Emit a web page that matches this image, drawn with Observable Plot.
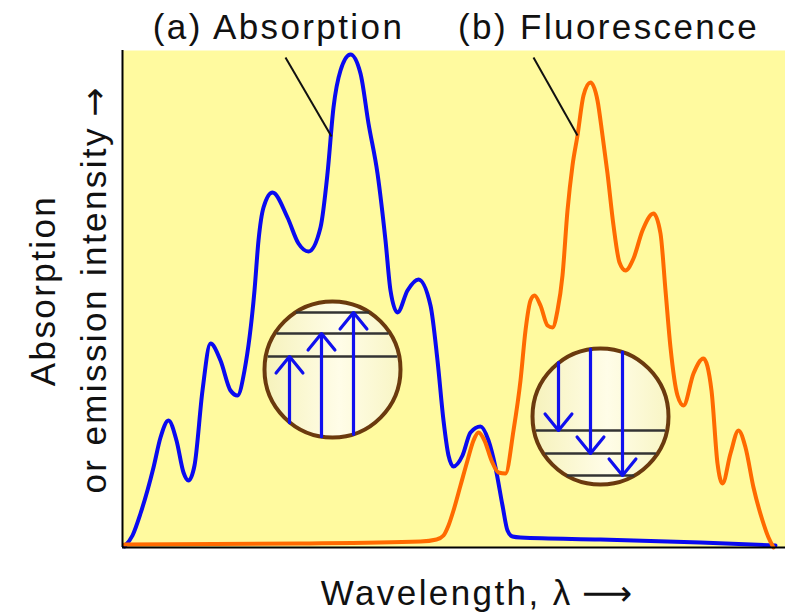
<!DOCTYPE html>
<html>
<head>
<meta charset="utf-8">
<script src="https://cdn.jsdelivr.net/npm/d3@7"></script>
<script src="https://cdn.jsdelivr.net/npm/@observablehq/plot@0.6"></script>
<style>
  html, body { margin: 0; padding: 0; background: #ffffff; }
</style>
</head>
<body>
<div id="chart"></div>
<script>
// ---- Data (arbitrary units) ----
const absWavelength = [2, 10, 18, 31, 38, 46, 54, 61, 66, 72, 80, 88, 98, 108, 115, 122, 132, 136, 141, 150, 165, 176, 186, 198, 205, 211, 218, 228, 238, 246, 255, 263, 268, 275, 285, 296, 308, 315, 321, 326, 331, 340, 348, 358, 366, 373, 380, 385, 390, 398, 478, 578, 653];
const absIntensity  = [1, 12, 34, 80, 110, 127, 107, 75, 67, 82, 157, 204, 187, 157, 152, 177, 257, 307, 340, 355, 330, 304, 296, 320, 374, 440, 477, 493, 474, 424, 374, 307, 257, 235, 257, 268, 242, 187, 127, 92, 81, 92, 115, 121, 107, 80, 42, 17, 11, 10, 8, 5, 2];

const fluWavelength = [2, 178, 298, 314, 321, 326, 331, 338, 345, 351, 356, 362, 369, 376, 383, 391, 398, 403, 408, 412, 418, 425, 430, 435, 440, 445, 450, 455, 461, 468, 475, 480, 485, 491, 497, 503, 511, 520, 531, 538, 543, 548, 555, 561, 571, 581, 589, 595, 600, 608, 616, 623, 631, 640, 646, 651];
const fluIntensity  = [3, 4, 6, 8, 12, 22, 37, 62, 87, 107, 115, 107, 87, 75, 74, 117, 167, 217, 247, 252, 242, 222, 220, 237, 272, 337, 382, 412, 452, 465, 447, 412, 374, 322, 285, 277, 289, 317, 334, 314, 257, 200, 152, 142, 174, 189, 157, 84, 64, 94, 117, 100, 60, 27, 10, 0];

const seriesTitles = ["(a) Absorption", "(b) Fluorescence"];
const axisLabelY = "Absorption\nor emission intensity\u2009\u2192";
const axisLabelX = "Wavelength, \u03bb\u2009\u27f6";

// energy-level insets (schematic)
const insetCenterX = [210, 478];
const insetCenterY = [178, 131];
const absLevels = [191, 214, 235];       // levels in the absorption inset
const absArrowX = [167, 199, 231];       // upward transitions
const fluLevels = [117, 94, 72];         // levels in the fluorescence inset
const fluArrowX = [436, 468, 500];       // downward transitions

// ---- Build tables ----
const absorption = absWavelength.map((x, i) => ({x, y: absIntensity[i]}));
const fluorescence = fluWavelength.map((x, i) => ({x, y: fluIntensity[i]}));

const R = 70; // inset radius (scale is 1 unit = 1 px)
const insets = insetCenterX.map((x, i) => ({x, y: insetCenterY[i]}));
function half(v, cv) { return Math.sqrt(Math.max(0, R * R - (v - cv) * (v - cv))); }

const levelSegs = [
  ...absLevels.map(y => ({y, x1: insets[0].x - half(y, insets[0].y) + 4, x2: insets[0].x + half(y, insets[0].y) - 4})),
  ...fluLevels.map(y => ({y, x1: insets[1].x - half(y, insets[1].y) + 4, x2: insets[1].x + half(y, insets[1].y) - 4}))
];
const arrows = [
  ...absArrowX.map((x, i) => ({x, y1: insets[0].y - half(x, insets[0].x) + 2, y2: absLevels[i]})),
  ...fluArrowX.map((x, i) => ({x, y1: insets[1].y + half(x, insets[1].x) - 2, y2: fluLevels[i]}))
];

// leader lines from titles to curves
const leaders = [
  {x1: 163, y1: 490, x2: 209, y2: 411},
  {x1: 411, y1: 490, x2: 455, y2: 412}
];
const titleRows = [
  {x: 156, y: 520, text: seriesTitles[0]},
  {x: 486, y: 520, text: seriesTitles[1]}
];

const FONT = "'Liberation Sans', Arial, Helvetica, sans-serif";

const chart = Plot.plot({
  width: 785,
  height: 613,
  marginLeft: 122,
  marginRight: 0,
  marginTop: 50,
  marginBottom: 66,
  x: {domain: [0, 663], axis: null},
  y: {domain: [0, 497], axis: null},
  style: {background: "#ffffff", overflow: "visible"},
  marks: [
    Plot.frame({fill: "#fffa9f", stroke: "none"}),
    Plot.line(absorption, {x: "x", y: "y", curve: "monotone-x", stroke: "#0a0af0", strokeWidth: 4}),
    Plot.line(fluorescence, {x: "x", y: "y", curve: "monotone-x", stroke: "#ff6a00", strokeWidth: 4}),
    Plot.link(leaders, {x1: "x1", y1: "y1", x2: "x2", y2: "y2", stroke: "#111", strokeWidth: 2}),
    Plot.dot(insets, {x: "x", y: "y", r: R - 2, fill: "url(#insetFill)", stroke: "#6b3a0e", strokeWidth: 4}),
    Plot.link(levelSegs, {x1: "x1", x2: "x2", y1: "y", y2: "y", stroke: "#333333", strokeWidth: 2.5}),
    Plot.arrow(arrows, {x1: "x", x2: "x", y1: "y1", y2: "y2", stroke: "#1010ee", strokeWidth: 3.2, headLength: 10, headAngle: 78}),
    Plot.text(titleRows, {x: "x", y: "y", text: "text", fontSize: 35, fontFamily: FONT, fill: "#111", className: "spaced"}),
    Plot.text([axisLabelY], {x: -58, y: 257, text: d => d, rotate: -90, fontSize: 35, fontFamily: FONT, lineHeight: 1.45, fill: "#111", className: "spaced"}),
    Plot.text([axisLabelX], {x: 354, y: -46, text: d => d, fontSize: 35, fontFamily: FONT, fill: "#111", className: "spaced"}),
    Plot.ruleX([0], {stroke: "#000", strokeWidth: 2}),
    Plot.ruleY([0], {stroke: "#000", strokeWidth: 2})
  ]
});

const svg = d3.select(chart);
const defs = svg.insert("defs", ":first-child");
const g = defs.append("linearGradient").attr("id", "insetFill").attr("x1", "0%").attr("x2", "100%").attr("y1", "0%").attr("y2", "0%");
g.append("stop").attr("offset", "0%").attr("stop-color", "#f6f2bb");
g.append("stop").attr("offset", "55%").attr("stop-color", "#fffde8");
g.append("stop").attr("offset", "100%").attr("stop-color", "#f8f5c4");
svg.selectAll("g.spaced text").attr("letter-spacing", "2.4px");

// render arrow glyphs in a font that has full-size arrows
chart.querySelectorAll("text, tspan").forEach(el => {
  if (el.children.length) return;
  const s = el.textContent;
  const m = s.match(/[\u2192\u27f6]/);
  if (!m) return;
  const i = s.indexOf(m[0]);
  el.textContent = s.slice(0, i);
  const t = document.createElementNS("http://www.w3.org/2000/svg", "tspan");
  t.setAttribute("font-family", "'DejaVu Sans', sans-serif");
  t.setAttribute("letter-spacing", "0");
  t.textContent = m[0];
  el.appendChild(t);
});

document.getElementById("chart").appendChild(chart);
</script>
</body>
</html>
